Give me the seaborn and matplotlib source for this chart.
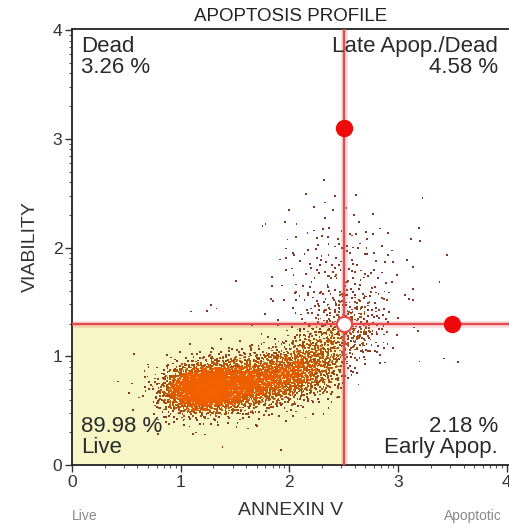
import numpy as np
import pandas as pd
import matplotlib
matplotlib.use("Agg")
import matplotlib.pyplot as plt
from matplotlib.colors import LinearSegmentedColormap
import seaborn as sns

# ---------------- data ----------------
title = "APOPTOSIS PROFILE"
x_label = "ANNEXIN V"
y_label = "VIABILITY"
major_ticks = [0, 1, 2, 3, 4]
gate_x = 2.5          # Annexin V gate (log decades)
gate_y = 1.3          # Viability gate (log decades)
handle_points_x = [2.5, 3.5]   # red gate handles
handle_points_y = [3.1, 1.3]
quad_names = ["Dead", "Late Apop./Dead", "Live", "Early Apop."]
quad_pcts = [3.26, 4.58, 89.98, 2.18]

# event-cloud components:
# centre x, centre y, spread x, spread y, tilt (deg), number of events
blob_cx = [1.22, 1.50, 1.95, 1.00, 2.25, 1.55, 2.55, 2.45, 2.60, 2.30]
blob_cy = [0.71, 0.74, 0.82, 0.68, 0.95, 0.76, 1.32, 1.75, 1.15, 1.10]
blob_sx = [0.16, 0.20, 0.22, 0.13, 0.17, 0.45, 0.20, 0.32, 0.12, 0.15]
blob_sy = [0.11, 0.12, 0.13, 0.12, 0.16, 0.22, 0.17, 0.33, 0.10, 0.12]
blob_tilt = [5, 8, 12, 0, 20, 8, 0, 0, 0, 0]
blob_n = [1450, 1250, 950, 350, 300, 170, 230, 200, 60, 90]

# isolated events read individually
lone_x = [1.28, 1.33, 1.24, 0.55, 0.62, 3.45, 3.12, 3.38, 1.78, 2.32, 3.55, 3.42, 1.95, 2.05]
lone_y = [1.47, 1.44, 1.42, 0.75, 0.62, 1.93, 2.08, 1.68, 2.22, 2.62, 0.95, 0.98, 1.52, 1.58]


def halton(n, base, start):
    out = np.zeros(n)
    for i in range(n):
        k = i + start
        f, r = 1.0, 0.0
        while k > 0:
            f /= base
            r += f * (k % base)
            k //= base
        out[i] = r
    return out


xs, ys = [], []
for j, (cx, cy, sx, sy, t, n) in enumerate(zip(blob_cx, blob_cy, blob_sx, blob_sy, blob_tilt, blob_n)):
    u1 = halton(n, 2, 17 + 811 * j)
    u2 = halton(n, 3, 29 + 577 * j)
    u1 = np.clip(u1, 1e-4, 1)
    rr = np.sqrt(-2 * np.log(u1))
    z1 = rr * np.cos(2 * np.pi * u2)
    z2 = rr * np.sin(2 * np.pi * u2)
    a = np.deg2rad(t)
    dx, dy = z1 * sx, z2 * sy
    xs.append(cx + dx * np.cos(a) - dy * np.sin(a))
    ys.append(cy + dx * np.sin(a) + dy * np.cos(a))
xs.append(np.array(lone_x))
ys.append(np.array(lone_y))
x = np.concatenate(xs)
y = np.concatenate(ys)
keep = (x > 0.05) & (x < 4) & (y > 0.05) & (y < 4)
x, y = x[keep], y[keep]

# density per event (for colouring like the cytometer)
H, xe, ye = np.histogram2d(x, y, bins=[np.arange(0, 4.05, 0.05), np.arange(0, 4.05, 0.05)])
ix = np.clip(np.digitize(x, xe) - 1, 0, H.shape[0] - 1)
iy = np.clip(np.digitize(y, ye) - 1, 0, H.shape[1] - 1)
dens = H[ix, iy] / H.max()
df = pd.DataFrame({"x": x, "y": y, "d": dens}).sort_values("d")

# ---------------- drawing ----------------
sns.set_theme(style="white")
plt.rcParams["font.family"] = ["Liberation Sans", "DejaVu Sans"]

fig = plt.figure(figsize=(5.09, 5.29), dpi=100)
ax = fig.add_axes([72 / 509, 1 - 465 / 529, (509 - 72) / 509, (465 - 29) / 529])
ax.set_xlim(0, 4.02)
ax.set_ylim(0, 4.01)

ax.fill_between([0, gate_x], 0, gate_y, color="#f6f6c6", zorder=0, linewidth=0)

cmap = LinearSegmentedColormap.from_list(
    "flow", [(0, "#7a3030"), (0.12, "#a8520f"), (0.38, "#ec5e00"), (1, "#f26200")])
sns.scatterplot(data=df, x="x", y="y", hue="d", palette=cmap, hue_norm=(0, 1),
                marker="s", s=1.7, linewidth=0, legend=False, ax=ax, zorder=2)

# gate lines with soft glow
for lw, al in [(5, 0.18), (1.7, 1.0)]:
    ax.axvline(gate_x, color="#e44a4e", lw=lw, alpha=al, zorder=3)
    ax.axhline(gate_y, color="#e44a4e", lw=lw, alpha=al, zorder=3)
ax.plot(handle_points_x, handle_points_y, "o", ms=11.5, color="#ee0a0a", mec="#ee0a0a", zorder=5)
ax.plot([gate_x], [gate_y], "o", ms=11, mfc="white", mec="#e44a4e", mew=1.6, zorder=5)

# axes styling
for s in ["left", "bottom", "top"]:
    ax.spines[s].set_visible(True)
    ax.spines[s].set_color("#222222")
    ax.spines[s].set_linewidth(1.3)
ax.spines["right"].set_visible(False)
ax.set_xticks(major_ticks)
ax.set_yticks(major_ticks)
minor = [d + np.log10(k) for d in range(4) for k in range(2, 10)]
ax.set_xticks(minor, minor=True)
ax.set_yticks(minor, minor=True)
ax.tick_params(which="major", direction="out", length=5, width=1, color="#333333",
               labelsize=12.5, labelcolor="#333333", bottom=True, left=True, pad=2)
ax.tick_params(which="minor", direction="out", length=2.5, width=0.8, color="#555555",
               bottom=True, left=True)
ax.set_xlabel(x_label, fontsize=14, color="#333333", labelpad=9)
ax.set_ylabel(y_label, fontsize=14, color="#333333", labelpad=10)
ax.set_title(title, fontsize=13.5, color="#222222", pad=6)

tc = "#2a2a2a"
fs = 16
ax.text(0.02, 0.985, f"{quad_names[0]}\n{quad_pcts[0]:.2f} %", transform=ax.transAxes,
        ha="left", va="top", fontsize=fs, color=tc, linespacing=1.05, zorder=6)
ax.text(0.975, 0.985, f"{quad_names[1]}\n{quad_pcts[1]:.2f} %", transform=ax.transAxes,
        ha="right", va="top", fontsize=fs, color=tc, linespacing=1.05, multialignment="right", zorder=6)
ax.text(0.02, 0.015, f"{quad_pcts[2]:.2f} %\n{quad_names[2]}", transform=ax.transAxes,
        ha="left", va="bottom", fontsize=fs, color=tc, linespacing=1.05, zorder=6)
ax.text(0.975, 0.015, f"{quad_pcts[3]:.2f} %\n{quad_names[3]}", transform=ax.transAxes,
        ha="right", va="bottom", fontsize=fs, color=tc, linespacing=1.05, multialignment="right", zorder=6)

fig.text(85 / 509, 1 - 520 / 529, "Live", fontsize=10, color="#8a8a8a", ha="center", va="baseline")
fig.text(473 / 509, 1 - 520 / 529, "Apoptotic", fontsize=10, color="#8a8a8a", ha="center", va="baseline")

fig.savefig("out.png", dpi=100)
